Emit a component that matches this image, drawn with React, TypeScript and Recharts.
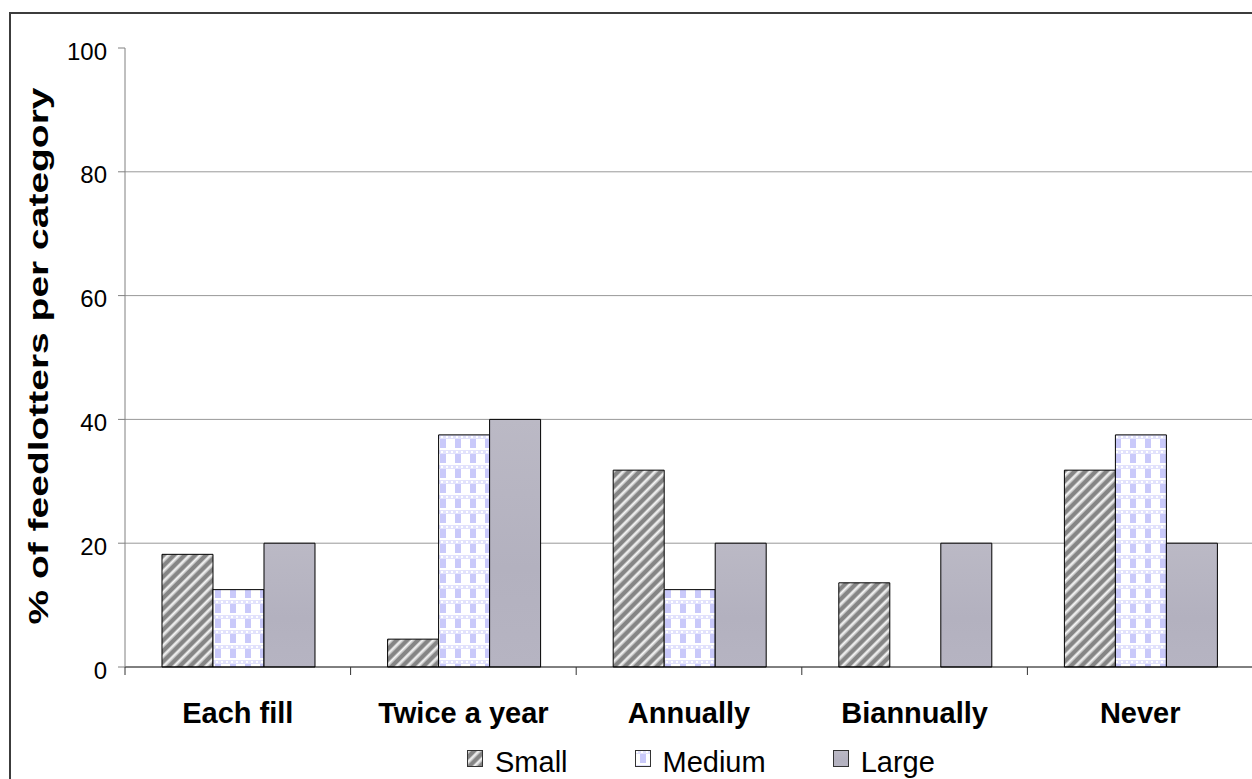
import { Bar, BarChart, CartesianGrid, Legend, XAxis, YAxis } from "recharts";

const categorias = ["Each fill", "Twice a year", "Annually", "Biannually", "Never"];
const small = [18.2, 4.5, 31.8, 13.6, 31.8];
const medium = [12.5, 37.5, 12.5, 0, 37.5];
const large = [20, 40, 20, 20, 20];
const yTicks = [0, 20, 40, 60, 80, 100];
const gridValues = [20, 40, 60, 80];

const FONTE = "'Liberation Sans', Arial, Helvetica, sans-serif";
const Y_MAX = 100;

const series = [
  { key: "Small", fill: "stripes" },
  { key: "Medium", fill: "checks" },
  { key: "Large", fill: "solid" },
];

const dados = categorias.map((categoria, i) => ({
  categoria,
  Small: small[i],
  Medium: medium[i],
  Large: large[i],
}));

function Padroes({ sufixo = "" }: { sufixo?: string }) {
  return (
    <defs>
      <pattern id={`stripes${sufixo}`} width={7.5} height={7.5} patternUnits="userSpaceOnUse" patternTransform="rotate(45)">
        <rect width={7.5} height={7.5} fill="#858585" />
        <rect x={0} width={1} height={7.5} fill="#c8c8c8" />
        <rect x={1} width={1.6} height={7.5} fill="#ffffff" />
        <rect x={2.6} width={1} height={7.5} fill="#c8c8c8" />
      </pattern>
      <pattern id={`checks${sufixo}`} width={15} height={15} patternUnits="userSpaceOnUse">
        <rect width={15} height={15} fill="#ffffff" />
        <rect x={0} y={0} width={15} height={4} fill="#e2e2fc" />
        <rect x={1} y={1} width={2} height={2} fill="#ffffff" />
        <rect x={6} y={1} width={2} height={2} fill="#ffffff" />
        <rect x={11} y={1} width={2} height={2} fill="#ffffff" />
        <rect x={5} y={4} width={6} height={9} fill="#c9c9fa" />
      </pattern>
      <linearGradient id={`solid${sufixo}`} x1="0" y1="0" x2="0" y2="1">
        <stop offset="0%" stopColor="#bbb9c5" />
        <stop offset="60%" stopColor="#b3b1bf" />
        <stop offset="100%" stopColor="#b6b4c2" />
      </linearGradient>
    </defs>
  );
}

function CategoriaTick(props: any) {
  const { x, y, payload } = props;
  const metade = payload?.offset ?? 112.8;
  return (
    <g>
      <line x1={x - metade} x2={x - metade} y1={y} y2={y + 8} stroke="#333" />
      <text x={x} y={y + 56} textAnchor="middle" fontSize={29} fontWeight="bold" fill="#000" fontFamily={FONTE}>
        {payload.value}
      </text>
    </g>
  );
}

function LegendaConteudo() {
  return (
    <div style={{ display: "flex", alignItems: "flex-start", fontFamily: FONTE, fontSize: 29, lineHeight: "22px", color: "#000" }}>
      {series.map((s, i) => (
        <div key={s.key} style={{ display: "flex", alignItems: "flex-start", marginRight: 67 }}>
          <svg width={16} height={17} style={{ marginTop: -1, marginRight: 12 }}>
            <Padroes sufixo={`-lg${i}`} />
            <rect x={0.5} y={0.5} width={15} height={16} fill={`url(#${s.fill}-lg${i})`} stroke="#333" />
          </svg>
          <span>{s.key}</span>
        </div>
      ))}
    </div>
  );
}

// linhas de grade só em 20..80, sem linha no topo
function gradeHorizontal({ offset }: any) {
  return gridValues.map((v) => offset.top + offset.height * (1 - v / Y_MAX));
}

export default function App() {
  return (
    <div style={{ position: "absolute", left: 0, top: 0, width: 1252, height: 779, overflow: "hidden", background: "#fff" }}>
      <div
        style={{
          position: "absolute",
          left: 9,
          top: 12,
          width: 2000,
          height: 2000,
          borderLeft: "2px solid #3c3c3c",
          borderTop: "2px solid #3c3c3c",
        }}
      />
      <div style={{ position: "absolute", left: 0, top: 0 }}>
        <BarChart
          width={1253}
          height={779}
          data={dados}
          margin={{ top: 48, right: 0, bottom: 0, left: 0 }}
          barCategoryGap="16.4%"
          barGap={0}
        >
          <Padroes />
          <CartesianGrid vertical={false} stroke="#999" horizontalCoordinatesGenerator={gradeHorizontal} />
          <XAxis
            dataKey="categoria"
            height={112}
            interval={0}
            tickLine={false}
            tickSize={0}
            tickMargin={0}
            axisLine={{ stroke: "#000" }}
            tick={<CategoriaTick />}
          />
          <YAxis
            width={125}
            domain={[0, Y_MAX]}
            ticks={yTicks}
            interval={0}
            tickSize={7}
            tickMargin={11}
            axisLine={{ stroke: "#808080" }}
            tickLine={{ stroke: "#808080" }}
            tick={{ fontSize: 24, fill: "#000", fontFamily: FONTE, dy: 3 }}
            label={{
              content: () => (
                <text
                  x={38}
                  y={356}
                  transform="rotate(-90 38 356)"
                  textAnchor="middle"
                  dominantBaseline="central"
                  fontSize={28}
                  fontWeight="bold"
                  fontFamily={FONTE}
                  fill="#000"
                  textLength={537}
                  lengthAdjust="spacingAndGlyphs"
                >
                  % of feedlotters per category
                </text>
              ),
            }}
          />
          <Legend
            layout="horizontal"
            verticalAlign="middle"
            content={<LegendaConteudo />}
            wrapperStyle={{ left: 467, top: 751, width: 700, height: 22 }}
          />
          {series.map((s) => (
            <Bar
              key={s.key}
              dataKey={s.key}
              fill={`url(#${s.fill})`}
              stroke="#000"
              strokeWidth={1}
              isAnimationActive={false}
            />
          ))}
        </BarChart>
      </div>
    </div>
  );
}
